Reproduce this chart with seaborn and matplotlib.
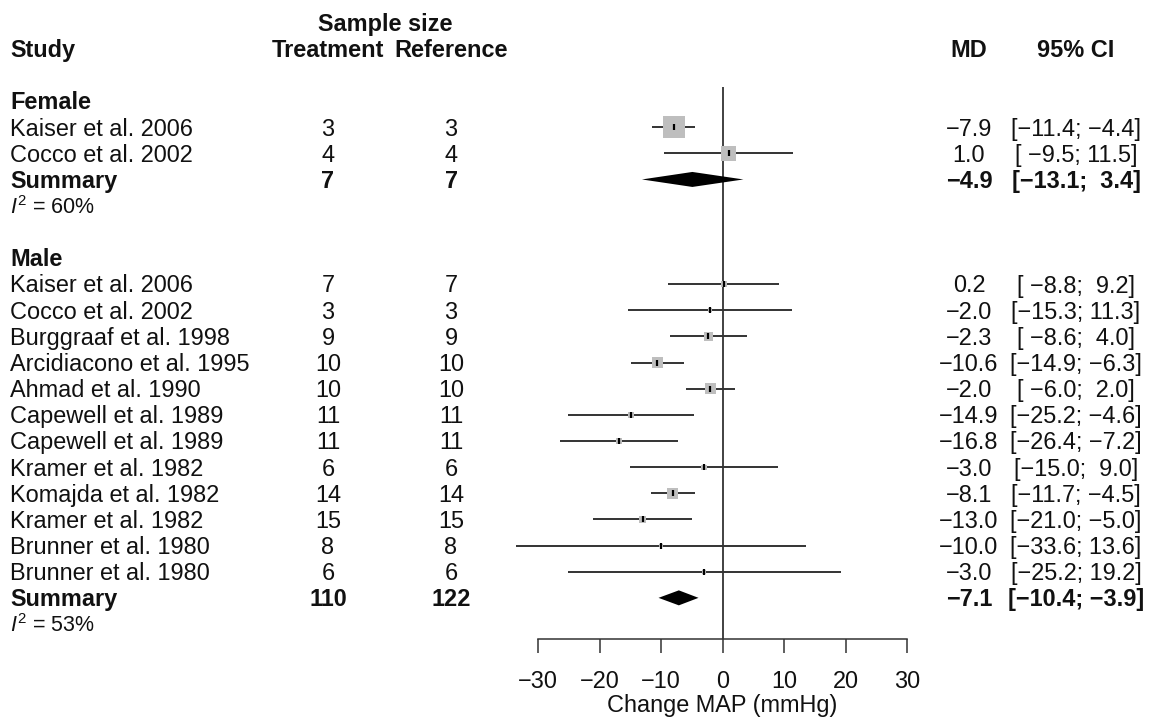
import numpy as np
import pandas as pd
import seaborn as sns
import matplotlib
matplotlib.use("Agg")
import matplotlib.pyplot as plt
from matplotlib.transforms import blended_transform_factory

# female subgroup
fem_study = ["Kaiser et al. 2006", "Cocco et al. 2002"]
fem_n_trt = [3, 4]
fem_n_ref = [3, 4]
fem_md = [-7.9, 1.0]
fem_lo = [-11.4, -9.5]
fem_hi = [-4.4, 11.5]
fem_w = [68, 32]
fem_sum = (-4.9, -13.1, 3.4)
fem_tot = (7, 7)
fem_i2 = 60

# male subgroup
male_study = ["Kaiser et al. 2006", "Cocco et al. 2002", "Burggraaf et al. 1998",
              "Arcidiacono et al. 1995", "Ahmad et al. 1990", "Capewell et al. 1989",
              "Capewell et al. 1989", "Kramer et al. 1982", "Komajda et al. 1982",
              "Kramer et al. 1982", "Brunner et al. 1980", "Brunner et al. 1980"]
male_n_trt = [7, 3, 9, 10, 10, 11, 11, 6, 14, 15, 8, 6]
male_n_ref = [7, 3, 9, 10, 10, 11, 11, 6, 14, 15, 8, 6]
male_md = [0.2, -2.0, -2.3, -10.6, -2.0, -14.9, -16.8, -3.0, -8.1, -13.0, -10.0, -3.0]
male_lo = [-8.8, -15.3, -8.6, -14.9, -6.0, -25.2, -26.4, -15.0, -11.7, -21.0, -33.6, -25.2]
male_hi = [9.2, 11.3, 4.0, -6.3, 2.0, -4.6, -7.2, 9.0, -4.5, -5.0, 13.6, 19.2]
male_w = [6.0, 2.5, 10.5, 16.0, 19.0, 6.0, 5.0, 4.0, 19.0, 8.0, 1.5, 2.5]
male_sum = (-7.1, -10.4, -3.9)
male_tot = (110, 122)
male_i2 = 53

xticks = [-30, -20, -10, 0, 10, 20, 30]

sns.set_theme(style="white")
plt.rcParams['font.family'] = ['Liberation Sans', 'DejaVu Sans']
plt.rcParams['mathtext.fontset'] = 'custom'
plt.rcParams['mathtext.rm'] = 'Liberation Sans'
plt.rcParams['mathtext.it'] = 'Liberation Sans:italic'

W, H = 1150, 719
ROW_H = 26.15
ROW0 = 101
FS = 16.9
TXT = '#111111'
X_STUDY, X_TRT, X_REF, X_MD, X_CI = 10, 328, 451, 969, 1076

fig = plt.figure(figsize=(W / 100, H / 100), dpi=100)
ax = fig.add_axes([538 / W, 0, 369 / W, 1])
ax.set_xlim(-30, 30)
ax.set_ylim((H - ROW0) / ROW_H, -ROW0 / ROW_H)
tr = blended_transform_factory(fig.transFigure, ax.transData)
base = 0.36 * FS * 100 / 72 / ROW_H


def put(xpx, row, s, ha='left', bold=False, fs=FS):
    ax.text(xpx / W, row + base, s, transform=tr, ha=ha, va='baseline',
            fontsize=fs, fontweight='bold' if bold else 'normal', color=TXT)


def minus(s):
    return s.replace('-', '\u2212')


def ci_txt(lo, hi):
    return minus("[{:5.1f}; {:4.1f}]".format(lo, hi))


groups = [("Female", fem_study, fem_n_trt, fem_n_ref, fem_md, fem_lo, fem_hi, fem_w, fem_sum, fem_tot, fem_i2),
          ("Male", male_study, male_n_trt, male_n_ref, male_md, male_lo, male_hi, male_w, male_sum, male_tot, male_i2)]

recs = []
sums = []
row = 0
for name, st, nt, nr, md, lo, hi, w, sm, tot, i2 in groups:
    put(X_STUDY, row, name, bold=True)
    for i in range(len(st)):
        row += 1
        recs.append(dict(row=row, study=st[i], nt=nt[i], nr=nr[i], md=md[i], lo=lo[i], hi=hi[i], w=w[i]))
    row += 1
    sums.append((row, sm))
    put(X_STUDY, row, "Summary", bold=True)
    put(X_TRT, row, str(tot[0]), ha='center', bold=True)
    put(X_REF, row, str(tot[1]), ha='center', bold=True)
    put(X_MD, row, minus("{:.1f}".format(sm[0])), ha='center', bold=True)
    put(X_CI, row, ci_txt(sm[1], sm[2]), ha='center', bold=True)
    row += 1
    put(X_STUDY, row, r"$I^2$ = {}%".format(i2), fs=15.5)
    row += 2
df = pd.DataFrame(recs)

for r in df.itertuples():
    put(X_STUDY, r.row, r.study)
    put(X_TRT, r.row, str(r.nt), ha='center')
    put(X_REF, r.row, str(r.nr), ha='center')
    put(X_MD, r.row, minus("{:.1f}".format(r.md)), ha='center')
    put(X_CI, r.row, ci_txt(r.lo, r.hi), ha='center')

# headers
put((X_TRT + X_REF) / 2 - 4, -3, "Sample size", ha='center', bold=True)
put(X_STUDY, -2, "Study", bold=True)
put(X_TRT, -2, "Treatment", ha='center', bold=True)
put(X_REF, -2, "Reference", ha='center', bold=True)
put(X_MD, -2, "MD", ha='center', bold=True)
put(X_CI, -2, "95% CI", ha='center', bold=True)

axis_row = (639 - ROW0) / ROW_H

# zero line and confidence intervals
ax.vlines(0, (87 - ROW0) / ROW_H, axis_row, color='#333333', lw=1.3, zorder=1)
ax.hlines(df['row'], df['lo'], df['hi'], color='#333333', lw=1.4, zorder=2, clip_on=False)
sns.scatterplot(data=df, x='md', y='row', size='w', sizes=(0, 350), size_norm=(0, 100),
                marker='s', color='#bebebe', edgecolor='none', linewidth=0,
                legend=False, ax=ax, zorder=3, clip_on=False)
ax.scatter(df['md'], df['row'], marker='|', s=24, color='black', linewidths=1.6, zorder=4)

# summary diamonds
dh = 7.5 / ROW_H
for r, (m, lo, hi) in sums:
    ax.fill([lo, m, hi, m], [r, r - dh, r, r + dh], color='black', lw=0, zorder=4)

# axis
for s in ['top', 'left', 'right']:
    ax.spines[s].set_visible(False)
ax.spines['bottom'].set_position(('data', axis_row))
ax.spines['bottom'].set_color('#333333')
ax.spines['bottom'].set_linewidth(1.1)
ax.set_xticks(xticks)
ax.set_xticklabels([minus(str(t)) for t in xticks])
ax.tick_params(axis='x', bottom=True, direction='out', length=10, width=1.1, color='#333333',
               pad=12, labelsize=FS, labelcolor=TXT)
ax.set_yticks([])
ax.set_xlabel("Change MAP (mmHg)", fontsize=FS, color=TXT, labelpad=1)
ax.set_ylabel("")
ax.patch.set_alpha(0)

fig.savefig("out.png", dpi=100)
